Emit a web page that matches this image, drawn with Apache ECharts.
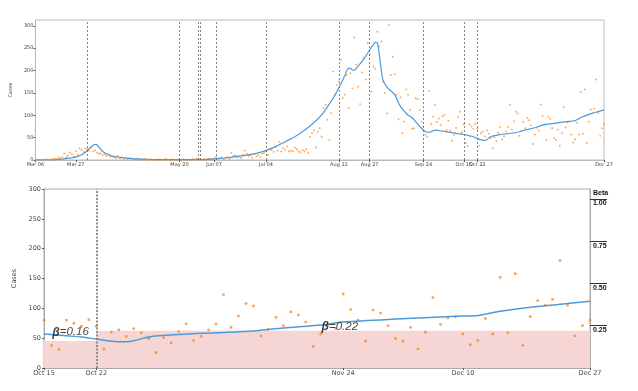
<!DOCTYPE html>
<html><head><meta charset="utf-8">
<script src="https://cdn.jsdelivr.net/npm/echarts@6/dist/echarts.min.js"></script>
<style>html,body{margin:0;padding:0;background:#fff}#c{width:638px;height:391px}</style>
</head><body><div id="c"></div>
<script>
// ---------- data ----------
const startDate = '2020-03-06';
const endDate = '2020-12-27';
const zoomStartDate = '2020-10-15';
const topTickDates = ['2020-03-06','2020-03-27','2020-05-20','2020-06-07','2020-07-04','2020-08-11','2020-08-27','2020-09-24','2020-10-15','2020-10-22','2020-12-27'];
const bottomTickDates = ['2020-10-15','2020-10-22','2020-11-24','2020-12-10','2020-12-27'];
const interventionDates = ['2020-04-02','2020-05-20','2020-05-30','2020-05-31','2020-06-08','2020-07-04','2020-08-11','2020-08-27','2020-09-24','2020-10-15','2020-10-22'];
const caseTicks = [0,50,100,150,200,250,300];
const betaTicks = [0.25,0.5,0.75,1.0];
// daily cases, one value per day from startDate to endDate
const dailyCases = [
 0,0,1,0,1,0,2,1,0,2,
 3,2,5,4,7,15,6,9,17,13,
 8,20,12,26,23,18,26,24,21,28,
 19,22,17,14,15,11,13,9,12,7,
 8,6,5,9,4,6,3,5,2,4,
 3,2,1,3,2,0,1,2,1,0,
 2,1,1,0,2,1,0,1,3,1,
 0,2,1,0,1,1,0,2,1,0,
 1,0,2,1,3,2,1,0,2,1,
 3,2,1,2,7,3,4,6,2,5,
 7,3,16,9,11,6,8,5,12,21,
 14,9,10,5,13,8,11,7,14,16,
 19,12,26,22,18,30,21,40,19,26,
 23,30,19,21,20,28,24,19,17,22,
 19,24,16,52,60,67,28,63,71,52,
 116,123,90,45,105,198,146,168,176,224,
 138,146,190,116,194,160,274,213,164,125,
 196,229,180,261,236,153,209,204,287,254,
 265,175,150,104,302,190,231,192,146,91,
 140,60,86,158,146,112,70,71,138,136,
 112,86,75,56,52,154,80,97,123,85,
 93,78,98,101,67,88,66,43,56,72,
 96,108,62,
 80,38,31,80,75,70,81,70,32,60,64,53,66,59,49,26,51,
 42,61,74,46,53,64,74,123,68,87,108,104,54,65,85,71,94,89,77,36,57,72,66,124,98,80,45,97,92,71,
 49,45,68,32,60,118,73,84,86,57,39,46,83,57,152,59,158,38,86,113,105,115,180,105,54,71,80
];
// smoothed trend: days since startDate and values
const trendDays = [0,10,14,18,22,25,27,29,31,32,33,35,37,40,44,50,56,65,80,90,94,100,104,110,115,120,125,130,135,139,144,149,153,156,159,161,163,164,165,166,168,171,174,176,177,178,179,180,181,183,187,190,194,196,201,204,205,208,210,213,217,220,223,226,228,230,232,234,235,237,241,246,251,255,260,263,270,279,281,284,289,293,296];
const trendValues = [0,0.5,2,4,8,14,21,29,35,34,29,19,14,9,6,3,2,1,1,1.5,3,5,7.5,11,15,21,30,41,52,63,80,101,125,146,170,188,205,205,201,201,210,226,246,258,263,262,236,202,178,163,146,120,100,95,71,62,62,67,66,64,61,59,57,54,52,48.5,45,44,45.5,52,56,59,62,67,72,77,82,87,88,95,103,108,112];
// beta (transmission) per period
const betaStartDates = ['2020-10-15','2020-10-22'];
const betaValues = [0.16,0.22];

// ---------- helpers ----------
const DAY = 86400000;
const t0 = Date.parse(startDate + 'T00:00:00Z');
function dayIndex(s){ return Math.round((Date.parse(s + 'T00:00:00Z') - t0) / DAY); }
const MONTHS = ['Jan','Feb','Mar','Apr','May','Jun','Jul','Aug','Sep','Oct','Nov','Dec'];
function fmt(d){ const t = new Date(t0 + d * DAY); return MONTHS[t.getUTCMonth()] + ' ' + String(t.getUTCDate()).padStart(2,'0'); }

const dEnd = dayIndex(endDate), dZoom = dayIndex(zoomStartDate);
const casePts = dailyCases.map((v,i)=>[i,v]);
const trendPts = trendDays.map((d,i)=>[d,trendValues[i]]);
const zoomCasePts = casePts.filter(p=>p[0]>=dZoom);
const zoomTrendPts = trendPts.filter(p=>p[0]>=dZoom);
const betaPts = betaStartDates.map((s,i)=>[dayIndex(s),betaValues[i]]);
betaPts.push([dEnd, betaValues[betaValues.length-1]]);
const topTicks = topTickDates.map(dayIndex);
const botTicks = bottomTickDates.map(dayIndex);
const vTop = interventionDates.map(dayIndex);
const vBot = vTop.filter(d=>d>dZoom && d<dEnd);

// annotation placement (style)
const betaLabelAnchors = [[dayIndex('2020-10-16')+0.1, 0.211],[dayIndex('2020-11-21')+0.1, 0.246]];

const FONT = 'DejaVu Sans';
const BLUE = '#4f9ad8', ORANGE = '#ff7f0e', GRAY='#444';

const option = {
  animation:false,
  backgroundColor:'#fff',
  grid:[
    {left:32, top:20, width:572, height:140, show:true, borderColor:'#bbb', borderWidth:1},
    {left:44, top:189, width:546, height:179, show:true, borderColor:'#aaa', borderWidth:1}
  ],
  xAxis:[
    {type:'value', gridIndex:0, min:0, max:dEnd, splitLine:{show:false},
     axisLine:{lineStyle:{color:'#bbb'}},
     axisTick:{customValues:topTicks, length:2, lineStyle:{color:'#555'}},
     axisLabel:{customValues:topTicks, formatter:v=>fmt(v), fontSize:5, fontFamily:FONT, color:GRAY, margin:2}},
    {type:'value', gridIndex:1, min:dZoom, max:dEnd, splitLine:{show:false},
     axisLine:{lineStyle:{color:'#aaa'}},
     axisTick:{customValues:botTicks, length:2, lineStyle:{color:'#555'}},
     axisLabel:{customValues:botTicks, formatter:v=>fmt(v), fontSize:6.5, fontFamily:FONT, color:GRAY, margin:2}}
  ],
  yAxis:[
    {type:'value', gridIndex:0, min:0, max:313, splitLine:{show:false},
     name:'Cases', nameLocation:'middle', nameGap:12, nameTextStyle:{fontSize:5, fontFamily:FONT, color:GRAY},
     axisLine:{show:true, lineStyle:{color:'#bbb'}},
     axisTick:{customValues:caseTicks, length:2, lineStyle:{color:'#555'}},
     axisLabel:{customValues:caseTicks, fontSize:5, fontFamily:FONT, color:GRAY, margin:2}},
    {type:'value', gridIndex:1, min:0, max:300, interval:50, splitLine:{show:false},
     name:'Cases', nameLocation:'middle', nameGap:15, nameTextStyle:{fontSize:6.5, fontFamily:FONT, color:GRAY},
     axisLine:{show:true, lineStyle:{color:'#aaa'}},
     axisTick:{length:2, lineStyle:{color:'#555'}},
     axisLabel:{fontSize:6.5, fontFamily:FONT, color:GRAY, margin:3}},
    {type:'value', gridIndex:1, position:'right', min:0, max:300/283.6, splitLine:{show:false},
     name:'Beta', nameLocation:'end', nameGap:-8,
     nameTextStyle:{fontSize:7, fontWeight:'bold', fontFamily:'Liberation Sans', color:'#111', align:'left', padding:[0,0,0,3]},
     axisLine:{show:true, lineStyle:{color:'#aaa'}},
     axisTick:{customValues:betaTicks, length:17, lineStyle:{color:'#333', width:1}},
     axisLabel:{customValues:betaTicks, formatter:v=>v.toFixed(2), fontSize:7, fontWeight:'bold', fontFamily:'Liberation Sans', color:'#111', margin:3, verticalAlign:'top', padding:[1,0,0,0]}}
  ],
  series:[
    {type:'line', xAxisIndex:1, yAxisIndex:2, data:betaPts, step:'end', symbol:'none', silent:true,
     lineStyle:{width:0}, areaStyle:{color:'#f6d5d5', opacity:1}, z:1},
    {type:'scatter', xAxisIndex:0, yAxisIndex:0, data:casePts, symbolSize:1.8,
     itemStyle:{color:ORANGE, opacity:0.75}, z:3},
    {type:'line', xAxisIndex:0, yAxisIndex:0, data:trendPts, symbol:'none', smooth:0.3,
     lineStyle:{color:BLUE, width:1.2}, z:4,
     markLine:{silent:true, symbol:'none', label:{show:false},
       lineStyle:{color:'#666', type:[2,2], width:0.8},
       data:vTop.map(d=>({xAxis:d}))}},
    {type:'scatter', xAxisIndex:1, yAxisIndex:1, data:zoomCasePts, symbolSize:2.8,
     itemStyle:{color:ORANGE, opacity:0.75}, z:3},
    {type:'line', xAxisIndex:1, yAxisIndex:1, data:zoomTrendPts, symbol:'none', smooth:0.3,
     lineStyle:{color:BLUE, width:1.5}, z:4,
     markLine:{silent:true, symbol:'none', label:{show:false},
       lineStyle:{color:'#777', type:[2,1.5], width:1.6},
       data:vBot.map(d=>({xAxis:d}))}},
    {type:'scatter', xAxisIndex:1, yAxisIndex:2, symbolSize:0, silent:true, z:6,
     data:betaLabelAnchors.map((p,i)=>({value:p})),
     label:{show:true, position:'right', distance:0,
       formatter:p=>'{b|β}{n|=' + betaValues[p.dataIndex].toFixed(2) + '}',
       rich:{b:{fontSize:12, fontWeight:'bold', fontStyle:'italic', fontFamily:'Liberation Sans', color:'#111'},
             n:{fontSize:11.5, fontStyle:'italic', fontFamily:'Liberation Sans', color:'#111'}}}}
  ]
};
const chart = echarts.init(document.getElementById('c'), null, {renderer:'canvas'});
chart.setOption(option);
</script>
</body></html>
